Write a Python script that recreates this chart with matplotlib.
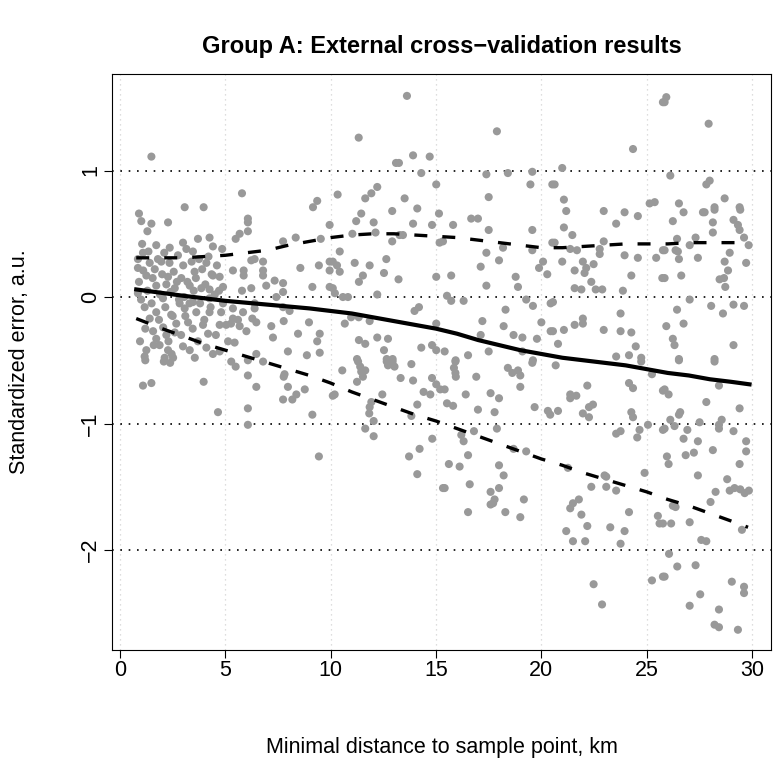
import matplotlib
matplotlib.use("Agg")
import matplotlib.pyplot as plt

plt.rcParams['font.family'] = ['Liberation Sans', 'DejaVu Sans']

# minimal distance to sample point (km) and standardized error
dist = [
    1.49, 3.07, 3.97, 0.90, 1.01, 1.49, 2.28, 1.30, 4.25, 3.70, 1.72, 2.99, 1.09, 2.36, 3.46, 4.41,
    1.41, 1.96, 0.85, 1.25, 2.28, 2.91, 3.54, 4.10, 4.41, 4.73, 1.72, 2.60, 3.31, 3.86, 4.25, 0.85,
    2.04, 2.83, 3.46, 4.25, 1.17, 1.72, 2.43, 3.07, 3.62, 4.25, 1.41, 2.67, 3.23, 3.94, 1.57, 2.20,
    4.18, 4.73, 1.72, 1.88, 2.99, 3.31, 2.28, 1.17, 4.41, 4.73, 2.12, 2.52,
    1.09, 1.49, 3.97, 4.65, 1.20, 2.08, 2.38,
    0.90, 1.00, 1.10, 1.20, 1.30, 1.35, 1.50, 1.55, 1.60, 1.65, 1.80, 1.85, 1.90, 2.00, 2.05, 2.10,
    2.15, 2.20, 2.30, 2.35, 2.40, 2.50, 2.55, 2.60, 2.70, 2.75, 2.80, 2.90, 3.00, 3.05, 3.10, 3.15,
    3.20, 3.30, 3.40, 3.45, 3.50, 3.60, 3.70, 3.75, 3.80, 3.90, 4.00, 4.05, 4.10, 4.20, 4.30, 4.35,
    4.50, 4.55, 4.60, 4.70, 4.80, 4.85, 1.05, 0.95, 1.25, 0.85, 2.45, 3.55,
    # 5 - 10 km
    5.79, 9.36, 9.16, 6.07, 6.07, 6.07, 5.68, 5.49, 9.95, 7.74, 8.34, 9.53, 6.23, 6.39, 6.79, 5.36,
    5.87, 5.87, 6.79, 6.79, 8.56, 9.44, 9.95, 9.95, 6.94, 7.34, 7.74, 7.74, 5.79, 6.23, 4.89, 9.13,
    9.95, 7.42, 4.89, 5.36, 6.39, 6.39, 5.84, 7.74, 8.05, 5.36, 5.60, 6.28, 6.47, 5.04, 5.27, 5.68,
    6.00, 7.18, 7.77, 8.97, 8.45, 9.48, 7.26, 9.36, 5.13, 5.44, 7.97, 6.47, 8.87, 9.48,
    5.28, 5.49, 6.07, 6.79, 6.07, 6.47, 7.81, 7.77, 7.97, 8.77, 8.37, 7.74, 8.18, 6.07, 6.07, 9.13,
    9.44, 10.10,
    # 10 - 15 km
    13.62, 11.33, 13.10, 13.24, 13.91, 14.70, 14.30, 10.33, 11.64, 11.93, 12.21, 13.51, 15.01, 12.92,
    14.11, 11.45, 11.21, 12.04, 13.91, 14.81, 15.14, 11.03, 12.13, 13.27, 13.43, 12.92, 15.17, 10.43,
    10.10, 10.30, 10.43, 11.14, 11.85, 12.64, 12.53, 11.53, 11.34, 13.22, 15.01, 10.10, 10.20, 10.58,
    10.82, 12.21, 13.98, 14.19, 10.97, 11.33, 11.85, 10.67, 15.01, 11.34, 11.64, 12.21, 12.72, 12.53,
    14.30, 14.81, 15.01, 11.25, 12.66, 12.94,
    11.30, 11.40, 10.55, 11.64, 11.45, 12.66, 12.94, 12.72, 13.03, 13.83, 11.25, 11.53, 13.32, 13.91,
    14.81, 15.01, 14.41, 14.73, 15.20, 10.19, 12.45, 11.93, 11.85, 11.83, 12.04, 11.64, 12.04, 14.11,
    13.83, 14.82, 14.22, 13.72, 14.11, 15.33,
    # 15 - 20 km
    17.89, 17.39, 18.41, 19.57, 19.48, 20.52, 17.50, 15.81, 16.67, 16.99, 17.50, 19.57, 15.33, 18.18,
    19.57, 20.52, 17.39, 17.99, 17.12, 20.08, 19.89, 20.28, 15.72, 18.78, 18.89, 17.39, 15.52, 15.72,
    16.31, 19.28, 19.60, 20.44, 18.30, 17.20, 18.21, 20.00, 17.12, 18.68, 19.10, 19.79, 20.44, 15.41,
    16.52, 17.50, 19.10, 15.93, 19.60,
    15.92, 15.85, 15.92, 15.94, 16.91, 18.41, 18.62, 18.89, 19.00, 19.57, 15.41, 16.41, 17.59, 17.99,
    19.00, 15.52, 15.81, 16.99, 17.78, 19.68, 20.31, 20.42, 17.89, 16.80, 16.20, 16.31, 18.68, 19.28,
    16.52, 15.61, 16.12, 17.99, 18.21, 15.41, 16.60, 17.99, 17.59, 19.17, 17.78, 17.71, 17.59, 16.52,
    18.29, 19.00,
    # 20 - 25 km
    25.77, 24.35, 20.99, 20.63, 21.07, 21.18, 22.96, 23.95, 24.58, 25.14, 25.38, 23.55, 21.07, 21.47,
    20.63, 22.96, 21.37, 21.69, 22.77, 22.77, 20.99, 21.97, 22.48, 22.13, 22.05, 23.95, 24.58, 25.45,
    25.77, 21.58, 24.27, 25.74, 22.37, 21.58, 21.90, 22.58, 22.89, 23.87, 20.55, 23.76, 21.97, 21.97,
    21.58, 21.07, 20.55, 22.96, 23.76, 24.27, 20.79, 24.48, 23.55, 24.16, 24.74,
    20.68, 24.74, 25.25, 25.77, 22.18, 24.16, 24.35, 21.37, 21.66, 21.37, 22.45, 22.26, 24.27, 24.35,
    21.97, 22.26, 20.79, 23.55, 23.76, 25.06, 24.66, 25.77, 24.55, 21.26, 23.00, 23.08, 24.90, 22.37,
    23.08, 23.55, 21.78, 21.50, 21.37, 21.90, 24.16, 25.53, 25.61, 22.18, 23.27, 21.18, 23.95, 21.50,
    22.08, 23.76, 22.48, 22.88, 25.25, 25.77,
    # 25 - 30 km
    25.93, 25.85, 27.94, 26.12, 27.99, 27.83, 28.70, 26.53, 26.75, 27.67, 27.75, 28.22, 28.22, 29.41,
    29.44, 26.24, 28.14, 29.12, 29.33, 29.41, 28.14, 26.44, 27.32, 29.62, 27.04, 29.84, 25.85, 26.37,
    26.48, 28.94, 26.53, 27.43, 28.70, 29.72, 28.86, 26.64, 25.85, 28.46, 28.67, 28.73, 27.04, 28.06,
    29.12, 29.62, 28.62, 26.44, 25.93, 26.75, 26.24, 26.32, 29.12, 26.53, 28.22,
    26.53, 28.22, 25.85, 26.04, 27.83, 28.43, 29.41, 26.59, 26.53, 26.12, 26.32, 25.85, 27.51, 28.56,
    28.43, 28.43, 26.93, 29.12, 26.75, 27.43, 29.72, 29.72, 28.14, 27.24, 26.85, 25.96, 26.04, 29.41,
    27.43, 28.82, 28.27, 28.94, 29.17, 29.44, 29.65, 29.85, 28.03, 26.24, 26.37, 27.04, 25.77, 26.16,
    29.52, 27.59, 27.83, 26.06, 26.45, 27.32, 25.85, 29.04, 29.62, 29.62, 27.54, 27.04, 28.43, 28.22,
    28.43, 29.33,
]
err = [
    1.11, 0.71, 0.71, 0.66, 0.60, 0.58, 0.59, 0.52, 0.47, 0.46, 0.41, 0.43, 0.35, 0.39, 0.36, 0.40,
    0.27, 0.28, 0.23, 0.17, 0.16, 0.15, 0.20, 0.27, 0.17, 0.16, 0.09, 0.07, 0.09, 0.07, 0.06, 0.03,
    -0.01, -0.05, -0.04, -0.01, -0.08, -0.12, -0.14, -0.09, -0.12, -0.12, -0.17, -0.21, -0.20, -0.22, -0.27, -0.30,
    -0.29, -0.22, -0.33, -0.38, -0.39, -0.42, -0.42, -0.47, -0.45, -0.43, -0.48, -0.48,
    -0.70, -0.68, -0.67, -0.91, -0.50, -0.51, -0.52,
    0.12, -0.02, 0.21, -0.25, 0.05, 0.36, -0.05, 0.15, -0.38, 0.22, 0.30, -0.18, 0.02, 0.18, -0.24, 0.35,
    -0.08, 0.10, -0.35, 0.27, 0.04, -0.15, 0.20, -0.28, 0.12, 0.33, -0.02, -0.30, 0.25, 0.00, -0.15, 0.38,
    0.12, -0.05, 0.28, -0.25, 0.05, 0.15, -0.35, 0.30, -0.05, 0.22, -0.18, 0.10, -0.40, 0.32, -0.08, 0.18,
    0.02, -0.30, 0.25, 0.05, -0.12, 0.38, 0.42, -0.35, -0.42, 0.30, -0.45, -0.48,
    # 5 - 10 km
    0.82, 0.76, 0.71, 0.62, 0.59, 0.52, 0.50, 0.46, 0.57, 0.44, 0.47, 0.46, 0.29, 0.30, 0.28, 0.21,
    0.21, 0.17, 0.21, 0.17, 0.23, 0.25, 0.28, 0.21, 0.09, 0.13, 0.11, 0.04, 0.05, 0.07, 0.08, 0.08,
    0.08, 0.00, -0.05, -0.09, -0.05, -0.09, -0.12, -0.08, -0.11, -0.17, -0.18, -0.17, -0.20, -0.22, -0.21, -0.23,
    -0.27, -0.23, -0.19, -0.20, -0.29, -0.29, -0.32, -0.35, -0.35, -0.36, -0.43, -0.45, -0.46, -0.44,
    -0.51, -0.55, -0.50, -0.51, -0.62, -0.71, -0.61, -0.63, -0.71, -0.73, -0.77, -0.81, -0.81, -0.88, -1.01, -0.93,
    -1.26, -0.78,
    # 10 - 15 km
    1.59, 1.26, 1.06, 1.06, 1.12, 1.11, 0.98, 0.81, 0.78, 0.82, 0.87, 0.78, 0.89, 0.68,
    0.70, 0.66, 0.60, 0.59, 0.58, 0.57, 0.66, 0.50, 0.51, 0.49, 0.49, 0.44, 0.43, 0.36,
    0.28, 0.25, 0.20, 0.27, 0.25, 0.30, 0.19, 0.17, 0.12, 0.14, 0.16, 0.07, 0.03, 0.00,
    0.00, 0.02, -0.11, -0.08, -0.16, -0.16, -0.19, -0.21, -0.21, -0.34, -0.37, -0.32, -0.33, -0.42,
    -0.40, -0.38, -0.42, -0.49, -0.49, -0.49,
    -0.51, -0.55, -0.58, -0.58, -0.59, -0.51, -0.51, -0.54, -0.55, -0.53, -0.67, -0.63, -0.64, -0.66,
    -0.64, -0.69, -0.75, -0.77, -0.73, -0.77, -0.77, -0.83, -0.87, -0.92, -0.98, -1.04, -1.10, -0.85,
    -0.94, -1.12, -1.20, -1.26, -1.40, -1.51,
    # 15 - 20 km
    1.31, 0.97, 0.98, 0.99, 0.89, 0.89, 0.79, 0.57, 0.62, 0.62, 0.53, 0.53, 0.44, 0.39,
    0.37, 0.43, 0.35, 0.29, 0.24, 0.28, 0.23, 0.18, 0.17, 0.16, 0.08, 0.09, 0.01, -0.03,
    -0.03, -0.02, -0.07, -0.05, -0.10, -0.19, -0.23, -0.20, -0.30, -0.30, -0.32, -0.33, -0.27, -0.43,
    -0.46, -0.43, -0.43, -0.50, -0.50,
    -0.51, -0.56, -0.60, -0.63, -0.63, -0.56, -0.60, -0.58, -0.62, -0.52, -0.73, -0.77, -0.76, -0.80,
    -0.71, -0.84, -0.86, -0.89, -0.91, -0.87, -0.90, -0.93, -1.04, -1.06, -1.09, -1.14, -1.20, -1.22,
    -1.25, -1.32, -1.34, -1.33, -1.41, -1.51, -1.48, -1.51, -1.54, -1.60, -1.60, -1.63, -1.64, -1.70,
    -1.70, -1.74,
    # 20 - 25 km
    1.54, 1.17, 1.02, 0.89, 0.77, 0.68, 0.68, 0.67, 0.64, 0.74, 0.75, 0.58, 0.55, 0.49,
    0.43, 0.44, 0.38, 0.37, 0.38, 0.34, 0.28, 0.28, 0.26, 0.23, 0.19, 0.33, 0.31, 0.31,
    0.37, 0.21, 0.17, 0.15, 0.12, 0.07, 0.06, 0.06, 0.06, 0.05, -0.04, -0.13, -0.17, -0.21,
    -0.22, -0.26, -0.27, -0.26, -0.27, -0.28, -0.37, -0.39, -0.47, -0.46, -0.48,
    -0.54, -0.51, -0.61, -0.74, -0.70, -0.68, -0.72, -0.77, -0.78, -0.80, -0.85, -0.87, -0.91, -0.95,
    -0.92, -0.95, -0.90, -1.08, -1.06, -1.01, -1.05, -1.05, -1.11, -1.35, -1.41, -1.42, -1.39, -1.50,
    -1.50, -1.53, -1.60, -1.63, -1.67, -1.72, -1.70, -1.73, -1.79, -1.81, -1.82, -1.85, -1.85, -1.93,
    -1.93, -1.95, -2.27, -2.43, -2.24, -2.21,
    # 25 - 30 km
    1.58, 1.54, 1.37, 0.96, 0.92, 0.89, 0.78, 0.74, 0.67, 0.67, 0.67, 0.71, 0.69, 0.71,
    0.69, 0.60, 0.59, 0.61, 0.57, 0.53, 0.51, 0.46, 0.47, 0.47, 0.41, 0.41, 0.37, 0.37,
    0.36, 0.35, 0.30, 0.31, 0.28, 0.27, 0.21, 0.17, 0.15, 0.14, 0.15, 0.08, -0.02, -0.07,
    -0.06, -0.07, -0.13, -0.10, -0.23, -0.21, -0.33, -0.38, -0.38, -0.49, -0.49,
    -0.50, -0.51, -0.73, -0.77, -0.83, -0.70, -0.88, -0.91, -0.93, -0.97, -1.02, -1.04, -0.99, -0.97,
    -1.01, -1.04, -1.05, -1.06, -1.12, -1.14, -1.14, -1.22, -1.21, -1.23, -1.25, -1.26, -1.32, -1.32,
    -1.41, -1.44, -1.54, -1.53, -1.51, -1.52, -1.55, -1.53, -1.62, -1.65, -1.66, -1.78, -1.79, -1.79,
    -1.84, -1.92, -1.93, -2.03, -2.13, -2.12, -2.21, -2.25, -2.29, -2.34, -2.35, -2.44, -2.47, -2.59,
    -2.61, -2.63,
]

# smoothed mean curve and the dashed spread curves
mean_x = [0.77, 3, 5, 7, 9, 10, 11, 12, 13, 14, 15, 16, 17, 18, 19, 20, 21, 22, 23, 24, 25, 26,
          27, 28, 29, 29.88]
mean_y = [0.06, 0.01, -0.03, -0.06, -0.09, -0.11, -0.13, -0.16, -0.19, -0.22, -0.25, -0.29, -0.34,
          -0.38, -0.42, -0.45, -0.48, -0.50, -0.52, -0.54, -0.57, -0.60, -0.62, -0.65, -0.67, -0.69]
upper_x = [0.77, 3, 5, 6, 7, 8, 9, 10, 11, 12, 13, 14, 15, 16, 17, 18, 19, 20, 21, 22, 23, 24,
           25, 26, 27, 28, 29, 29.85]
upper_y = [0.31, 0.31, 0.33, 0.35, 0.37, 0.41, 0.44, 0.47, 0.49, 0.50, 0.50, 0.49, 0.48, 0.47,
           0.45, 0.43, 0.41, 0.39, 0.39, 0.40, 0.41, 0.42, 0.42, 0.42, 0.43, 0.43, 0.43, 0.43]
lower_x = [0.77, 2, 3, 4, 5, 6, 7, 8, 9, 10, 11, 12, 13, 14, 15, 16, 17, 18, 19, 20, 21, 22, 23,
           24, 25, 26, 27, 28, 29, 29.81]
lower_y = [-0.17, -0.25, -0.31, -0.37, -0.42, -0.47, -0.52, -0.57, -0.62, -0.68, -0.75, -0.81,
           -0.87, -0.93, -0.98, -1.04, -1.10, -1.16, -1.22, -1.28, -1.33, -1.39, -1.44, -1.49,
           -1.54, -1.60, -1.65, -1.71, -1.77, -1.82]

xticks = [0, 5, 10, 15, 20, 25, 30]
yticks = [1, 0, -1, -2]

W, H = 773, 763
fig = plt.figure(figsize=(W / 100, H / 100), dpi=100)
left, right, top, bottom = 112, 771, 74, 650
ax = fig.add_axes([left / W, 1 - bottom / H, (right - left) / W, (bottom - top) / H])

for xv in xticks:
    ax.axvline(xv, color='#d3d3d3', lw=0.9, ls=(0, (1, 3)), zorder=1)
for yv in yticks:
    ax.axhline(yv, color='black', lw=1.2, ls=(0, (1, 4)), zorder=1)

ax.scatter(dist, err, s=34, color='#999999', edgecolors='none', zorder=2)
ax.plot(mean_x, mean_y, color='black', lw=3, zorder=3)
ax.plot(upper_x, upper_y, color='black', lw=2.4, ls=(0, (3.9, 4.5)), zorder=3)
ax.plot(lower_x, lower_y, color='black', lw=2.4, ls=(0, (3.9, 4.5)), zorder=3)

ax.set_xlim(-0.38, 30.9)
ax.set_ylim(-2.79, 1.763)
ax.set_xticks(xticks)
ax.set_yticks(yticks)
ax.set_yticklabels(['1', '0', '\u22121', '\u22122'], rotation=90, va='center')
ax.tick_params(direction='out', length=6, width=0.8, labelsize=15.5)
ax.tick_params(axis='x', pad=1.5)
ax.tick_params(axis='y', pad=2)
for s in ax.spines.values():
    s.set_linewidth(0.8)

cx = (left + right) / 2 / W
fig.text(cx, 1 - 747 / H, 'Minimal distance to sample point, km', fontsize=15.5,
         ha='center', va='center')
fig.text(20 / W, 1 - (top + bottom) / 2 / H, 'Standardized error, a.u.', fontsize=15.5,
         ha='center', va='center', rotation=90)
fig.text(cx, 1 - 47 / H, 'Group A: External cross\u2212validation results', fontsize=17,
         fontweight='bold', ha='center', va='center')

fig.savefig('out.png', dpi=100)
